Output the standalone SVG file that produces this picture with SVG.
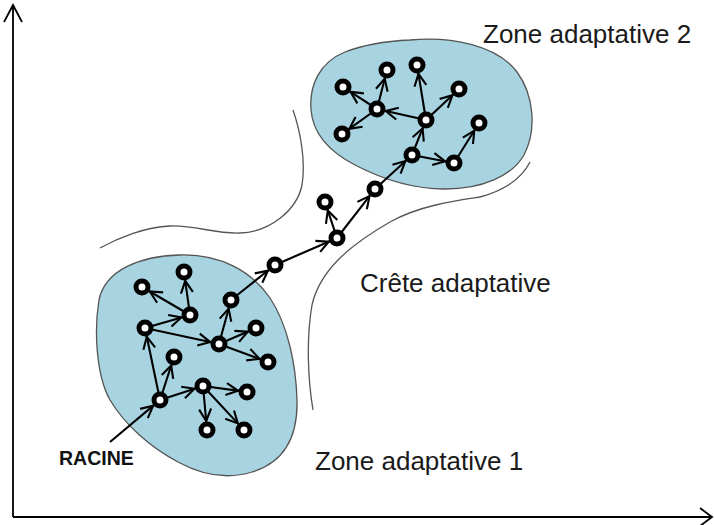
<svg xmlns="http://www.w3.org/2000/svg" width="714" height="525" viewBox="0 0 714 525">
<style>
.zone{fill:#a7d4e0;stroke:#555;stroke-width:1.3}
.ridge{fill:none;stroke:#555;stroke-width:1.3}
.axis{fill:none;stroke:#000;stroke-width:1.8}
.edge{stroke:#000;stroke-width:2.1;fill:none;marker-end:url(#arr)}
.node{fill:#fff;stroke:#000;stroke-width:5}
.lbl{font-family:"Liberation Sans",Arial,sans-serif;font-size:26px;fill:#1a1a1a}
.root{font-family:"Liberation Sans",Arial,sans-serif;font-size:19.5px;font-weight:bold;fill:#111}
</style>
<defs>
<marker id="arr" markerUnits="userSpaceOnUse" viewBox="0 0 16 16" markerWidth="16" markerHeight="16" refX="14" refY="8" orient="auto" overflow="visible">
<path d="M1,2 L13,8 L1,14" fill="none" stroke="#000" stroke-width="2.1"/>
</marker>
</defs>
<rect width="714" height="525" fill="#fff"/>
<g id="axes">
<path class="axis" d="M13,517 L13,5 M4,22 L13,5 L22,22"/>
<path class="axis" d="M13,517 L712,517 M700,508 L712,517 L700,526"/>
</g>
<g id="zone1"><path class="zone" d="M180,255 C222,254 252,272 270,298 C288,325 296,365 297,400 C298,440 282,463 252,472 C226,480 200,474 178,462 C150,447 125,425 110,400 C96,375 94,330 99,300 C105,270 140,256 180,255 Z"/></g>
<g id="zone2"><path class="zone" d="M410,40 C450,36 497,45 517,72 C534,95 537,130 524,155 C512,176 482,189 445,189 C410,189 380,178 355,165 C330,152 313,135 311,110 C309,85 320,62 345,52 C368,43 390,41 410,40 Z"/></g>
<g id="ridge">
<path class="ridge" d="M293,110 C300,130 306,160 302,185 C297,210 270,232 240,233 C215,234 195,225 170,226 C145,227 118,238 100,248"/>
<path class="ridge" d="M313,410 C308,380 306,340 312,305 C320,270 350,245 390,222 C420,205 460,200 480,197 C505,190 522,178 530,162"/>
</g>
<g id="connectors">
<line class="edge" x1="110" y1="442" x2="153.9" y2="405.1"/>
<line class="edge" x1="160" y1="400" x2="146.6" y2="335.8"/>
<line class="edge" x1="160" y1="400" x2="171.5" y2="364.6"/>
<line class="edge" x1="160" y1="400" x2="195.4" y2="388.5"/>
<line class="edge" x1="145" y1="328" x2="182.3" y2="317.2"/>
<line class="edge" x1="190" y1="315" x2="148.9" y2="291"/>
<line class="edge" x1="190" y1="315" x2="185.1" y2="279.9"/>
<line class="edge" x1="145" y1="328" x2="211.2" y2="342.3"/>
<line class="edge" x1="219" y1="344" x2="228.9" y2="307.7"/>
<line class="edge" x1="219" y1="344" x2="248.7" y2="331.2"/>
<line class="edge" x1="219" y1="344" x2="260.5" y2="359.2"/>
<line class="edge" x1="203" y1="386" x2="239.1" y2="390.9"/>
<line class="edge" x1="203" y1="386" x2="206.3" y2="422"/>
<line class="edge" x1="203" y1="386" x2="238.5" y2="424.1"/>
<line class="edge" x1="231" y1="300" x2="268.7" y2="270"/>
<line class="edge" x1="275" y1="265" x2="329.7" y2="241.2"/>
<line class="edge" x1="337" y1="238" x2="327.5" y2="209.6"/>
<line class="edge" x1="337" y1="238" x2="370.1" y2="195.3"/>
<line class="edge" x1="375" y1="189" x2="406.1" y2="160.4"/>
<line class="edge" x1="412" y1="155" x2="446.1" y2="161.5"/>
<line class="edge" x1="454" y1="163" x2="474.8" y2="129.8"/>
<line class="edge" x1="412" y1="155" x2="423" y2="127.4"/>
<line class="edge" x1="426" y1="120" x2="418.3" y2="72.9"/>
<line class="edge" x1="426" y1="120" x2="453.2" y2="94.5"/>
<line class="edge" x1="426" y1="120" x2="384.8" y2="110.8"/>
<line class="edge" x1="377" y1="109" x2="385" y2="77.7"/>
<line class="edge" x1="377" y1="109" x2="349.7" y2="91.3"/>
<line class="edge" x1="377" y1="109" x2="348.5" y2="129.4"/>
</g>
<g id="nodes">
<g id="nA"><circle class="node" cx="142" cy="287" r="6"/></g>
<g id="nB"><circle class="node" cx="184" cy="272" r="6"/></g>
<g id="nC"><circle class="node" cx="190" cy="315" r="6"/></g>
<g id="nD"><circle class="node" cx="145" cy="328" r="6"/></g>
<g id="nE"><circle class="node" cx="231" cy="300" r="6"/></g>
<g id="nF"><circle class="node" cx="275" cy="265" r="6"/></g>
<g id="nG"><circle class="node" cx="256" cy="328" r="6"/></g>
<g id="nH"><circle class="node" cx="219" cy="344" r="6"/></g>
<g id="nI"><circle class="node" cx="268" cy="362" r="6"/></g>
<g id="nJ"><circle class="node" cx="174" cy="357" r="6"/></g>
<g id="nK"><circle class="node" cx="203" cy="386" r="6"/></g>
<g id="nL"><circle class="node" cx="247" cy="392" r="6"/></g>
<g id="nM"><circle class="node" cx="160" cy="400" r="6"/></g>
<g id="nN"><circle class="node" cx="207" cy="430" r="6"/></g>
<g id="nO"><circle class="node" cx="244" cy="430" r="6"/></g>
<g id="nP"><circle class="node" cx="337" cy="238" r="6"/></g>
<g id="nQ"><circle class="node" cx="325" cy="202" r="6"/></g>
<g id="nR"><circle class="node" cx="375" cy="189" r="6"/></g>
<g id="nS"><circle class="node" cx="412" cy="155" r="6"/></g>
<g id="nT"><circle class="node" cx="454" cy="163" r="6"/></g>
<g id="nU"><circle class="node" cx="479" cy="123" r="6"/></g>
<g id="nV"><circle class="node" cx="426" cy="120" r="6"/></g>
<g id="nW"><circle class="node" cx="459" cy="89" r="6"/></g>
<g id="nX"><circle class="node" cx="417" cy="65" r="6"/></g>
<g id="nY"><circle class="node" cx="377" cy="109" r="6"/></g>
<g id="nZ"><circle class="node" cx="387" cy="70" r="6"/></g>
<g id="nAA"><circle class="node" cx="343" cy="87" r="6"/></g>
<g id="nAB"><circle class="node" cx="342" cy="134" r="6"/></g>
</g>
<g id="labels">
<text class="lbl" x="483" y="43">Zone adaptative 2</text>
<text class="lbl" x="360" y="292">Crête adaptative</text>
<text class="lbl" x="315" y="470">Zone adaptative 1</text>
<text class="root" x="59" y="465">RACINE</text>
</g>
</svg>
